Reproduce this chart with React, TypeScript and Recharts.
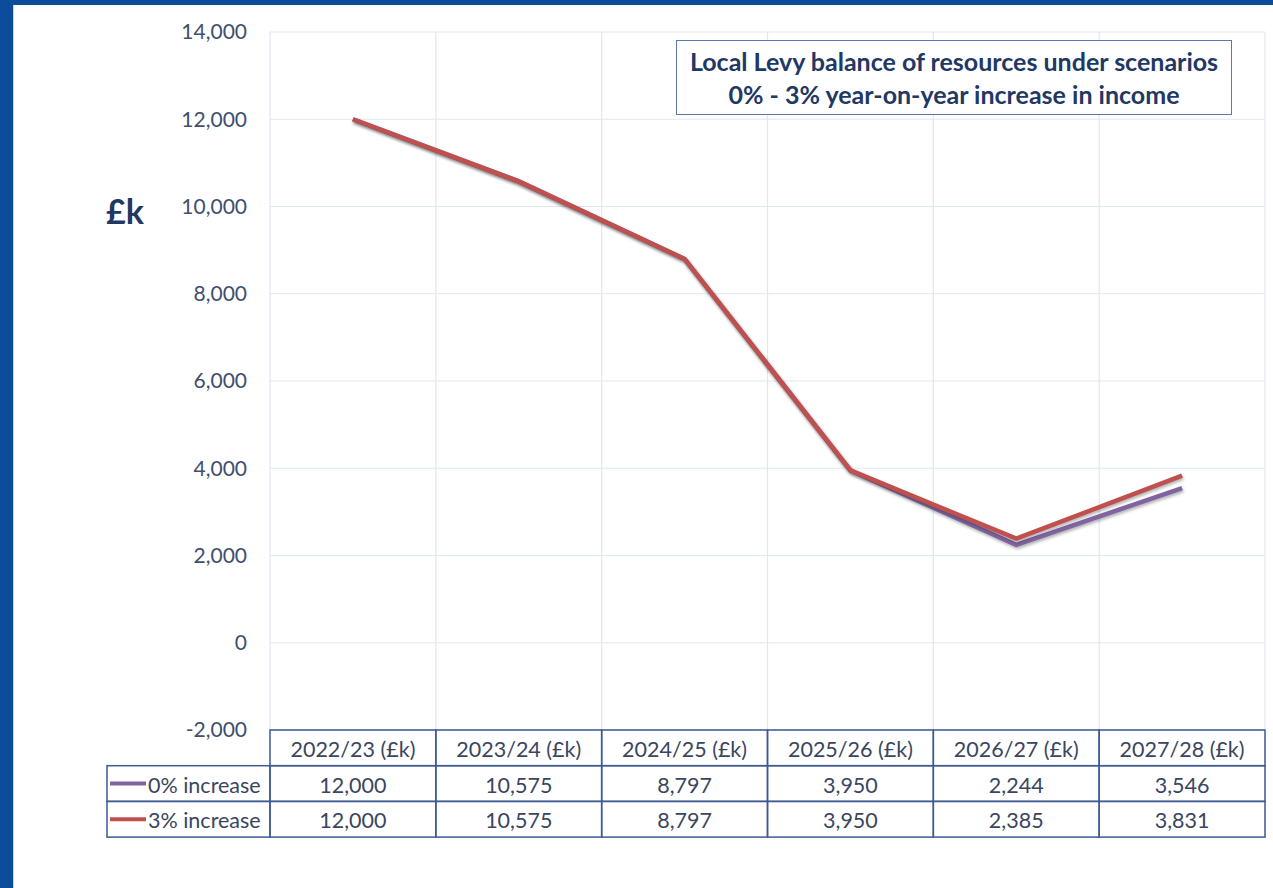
import { LineChart, Line, XAxis, YAxis, CartesianGrid } from 'recharts'

const years = ['2022/23 (£k)', '2023/24 (£k)', '2024/25 (£k)', '2025/26 (£k)', '2026/27 (£k)', '2027/28 (£k)']
const zeroPct = [12000, 10575, 8797, 3950, 2244, 3546]
const threePct = [12000, 10575, 8797, 3950, 2385, 3831]
const yTicks = [-2000, 0, 2000, 4000, 6000, 8000, 10000, 12000, 14000]
const seriesNames = ['0% increase', '3% increase']

const data = years.map((year, i) => ({ year, zero: zeroPct[i], three: threePct[i] }))

const PURPLE = '#8064a2'
const RED = '#c0504d'
const BORDER = '#3d5a92'
const TEXT = '#3a4660'
const TITLE = '#1f3864'
const FONT = 'Lato, "Open Sans", sans-serif'

const CELL_W = 995 / 6
const ROW_H = 35.7
const LEGEND_W = 163

const fmt = (v: number) => v.toLocaleString('en-GB')

function TableTick(props: any) {
  const { x, y, index, payload } = props
  const left = x - CELL_W / 2
  const rows = [zeroPct[index], threePct[index]]
  const colors = [PURPLE, RED]
  return (
    <g>
      <rect x={left} y={y} width={CELL_W} height={ROW_H} fill="none" stroke={BORDER} strokeWidth={1.5} />
      <text x={x} y={y + ROW_H / 2 + 1} textAnchor="middle" dominantBaseline="central" fill={TEXT} fontSize={21.5} fontFamily={FONT}>
        {payload.value}
      </text>
      {rows.map((v, r) => (
        <g key={r}>
          <rect x={left} y={y + ROW_H * (r + 1)} width={CELL_W} height={ROW_H} fill="none" stroke={BORDER} strokeWidth={1.5} />
          <text x={x} y={y + ROW_H * (r + 1.5) + 1} textAnchor="middle" dominantBaseline="central" fill={TEXT} fontSize={21.5} fontFamily={FONT}>
            {fmt(v)}
          </text>
        </g>
      ))}
      {index === 0 &&
        seriesNames.map((name, r) => (
          <g key={name}>
            <rect x={left - LEGEND_W} y={y + ROW_H * (r + 1)} width={LEGEND_W} height={ROW_H} fill="none" stroke={BORDER} strokeWidth={1.5} />
            <line x1={left - LEGEND_W + 3} x2={left - LEGEND_W + 39} y1={y + ROW_H * (r + 1.5)} y2={y + ROW_H * (r + 1.5)} stroke={colors[r]} strokeWidth={4} />
            <text x={left - LEGEND_W + 41} y={y + ROW_H * (r + 1.5) + 1} textAnchor="start" dominantBaseline="central" fill={TEXT} fontSize={21.5} fontFamily={FONT}>
              {name}
            </text>
          </g>
        ))}
    </g>
  )
}

export default function App() {
  return (
    <div style={{ position: 'absolute', left: 0, top: 0, width: 1273, height: 888, background: '#0b4d9a', overflow: 'hidden' }}>
      <style>{'.recharts-line-curve { filter: drop-shadow(1px 2px 1.5px rgba(0,0,0,0.3)); }'}</style>
      <div style={{ position: 'absolute', left: 13, top: 5, right: 0, bottom: 0, background: '#fff', borderLeft: '1px solid #c9d3ea' }} />
      <div style={{ position: 'absolute', left: 0, top: 0 }}>
        <LineChart width={1273} height={888} data={data} margin={{ top: 32, right: 8, bottom: 50, left: 200 }}>
          <CartesianGrid
            stroke="#dfe7f2"
            strokeWidth={1.2}
            verticalCoordinatesGenerator={({ offset }: any) =>
              years.map((_, i) => offset.left + (i * offset.width) / years.length).concat(offset.left + offset.width)
            }
          />
          <XAxis
            dataKey="year"
            height={108}
            axisLine={false}
            tickLine={false}
            tickSize={0}
            tickMargin={0}
            interval={0}
            padding={{ left: CELL_W / 2, right: CELL_W / 2 }}
            tick={(p: any) => <TableTick {...p} />}
          />
          <YAxis
            width={70}
            domain={[-2000, 14000]}
            ticks={yTicks}
            axisLine={false}
            tickLine={false}
            tickSize={0}
            tickMargin={23}
            tickFormatter={fmt}
            tick={{ fill: '#404f6e', fontSize: 21, fontFamily: FONT }}
          />
          <Line type="linear" dataKey="zero" stroke={PURPLE} strokeWidth={4.5} dot={false} isAnimationActive={false} />
          <Line type="linear" dataKey="three" stroke={RED} strokeWidth={4.5} dot={false} isAnimationActive={false} />
        </LineChart>
      </div>
      <div style={{ position: 'absolute', left: 106, top: 190, fontFamily: FONT, fontWeight: 700, fontSize: 34, color: TITLE }}>£k</div>
      <div
        style={{
          position: 'absolute',
          left: 676,
          top: 40,
          width: 556,
          height: 75,
          border: '1.5px solid #5b78ad',
          boxSizing: 'border-box',
          display: 'flex',
          flexDirection: 'column',
          justifyContent: 'center',
          alignItems: 'center',
          fontFamily: FONT,
          fontWeight: 700,
          fontSize: 25,
          lineHeight: '33px',
          color: TITLE,
          background: '#fff',
        }}
      >
        <div>Local Levy balance of resources under scenarios</div>
        <div>0% - 3% year-on-year increase in income</div>
      </div>
    </div>
  )
}
